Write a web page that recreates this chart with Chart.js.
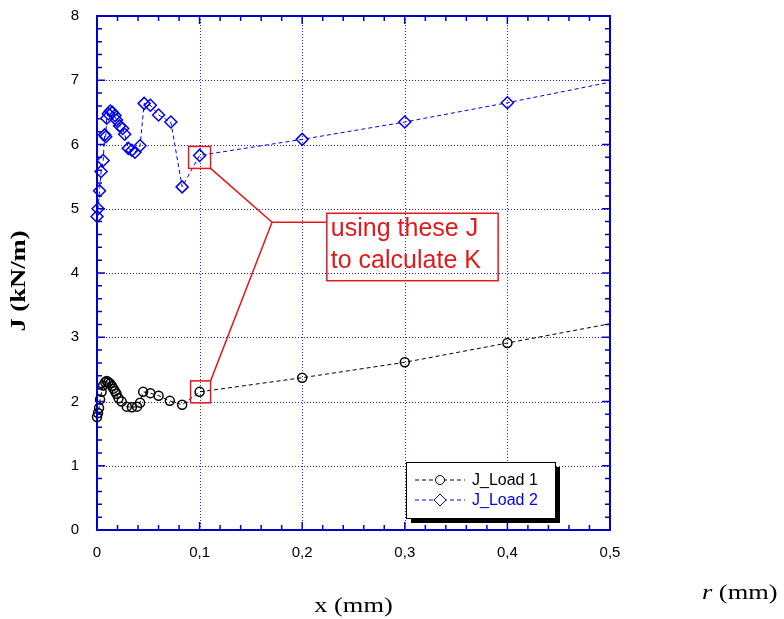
<!DOCTYPE html>
<html>
<head>
<meta charset="utf-8">
<script src="https://cdn.jsdelivr.net/npm/chart.js@4/dist/chart.umd.min.js"></script>
<style>
  html, body { margin: 0; padding: 0; background: #fff; }
  #wrap { width: 784px; height: 619px; position: relative; }
</style>
</head>
<body>
<div id="wrap"><canvas id="c" width="784" height="619"></canvas></div>
<script>
// J-integral along the crack front distance, two load cases
const load1X = [0, 0.001, 0.002, 0.003, 0.0045, 0.006, 0.008, 0.0095, 0.011, 0.0127, 0.0145, 0.016, 0.0175, 0.019, 0.021, 0.024, 0.029, 0.034, 0.039, 0.042, 0.045, 0.052, 0.060, 0.071, 0.083, 0.1, 0.2, 0.3, 0.4, 0.5];
const load1J = [1.76, 1.82, 1.9, 2.03, 2.15, 2.25, 2.3, 2.32, 2.3, 2.28, 2.24, 2.2, 2.16, 2.12, 2.05, 2.0, 1.92, 1.91, 1.92, 1.98, 2.15, 2.13, 2.09, 2.01, 1.95, 2.15, 2.37, 2.61, 2.91, 3.21];

const load2X = [0, 0.001, 0.0025, 0.004, 0.006, 0.0075, 0.0085, 0.0095, 0.011, 0.013, 0.015, 0.0175, 0.019, 0.022, 0.025, 0.027, 0.0305, 0.034, 0.037, 0.042, 0.046, 0.052, 0.060, 0.072, 0.083, 0.1, 0.2, 0.3, 0.4, 0.5];
const load2J = [4.88, 5.0, 5.28, 5.58, 5.75, 6.15, 6.12, 6.41, 6.48, 6.52, 6.5, 6.45, 6.38, 6.29, 6.25, 6.16, 5.94, 5.91, 5.88, 5.98, 6.64, 6.61, 6.46, 6.35, 5.34, 5.83, 6.08, 6.35, 6.65, 6.97];

const seriesNames = ['J_Load 1', 'J_Load 2'];
const xTicks = [0, 0.1, 0.2, 0.3, 0.4, 0.5];
const yTicks = [0, 1, 2, 3, 4, 5, 6, 7, 8];

// points highlighted for the K calculation (index into each series)
const pickedIndex = 25;
const noteLines = ['using these J', 'to calculate K'];

const BLUE = '#0000ee';
const FRAME = '#0000d0';
const RED = 'rgb(228,24,24)';

function pts(xs, ys) { return xs.map((x, i) => ({ x: x, y: ys[i] })); }
// last sample only continues the line to the frame edge
function radii(n, r) { return Array.from({ length: n }, (_, i) => i === n - 1 ? 0 : r); }

const fmt = v => v === 0 ? '0' : v.toFixed(1).replace('.', ',');

// text drawn with a horizontal stretch factor
function wideText(ctx, text, x, y, sx) {
  ctx.save();
  ctx.translate(x, y);
  ctx.scale(sx, 1);
  ctx.fillText(text, 0, 0);
  ctx.restore();
}

const decor = {
  id: 'decor',
  beforeDatasetsDraw(chart) {
    const { ctx, chartArea: a, scales: { x, y } } = chart;
    ctx.save();
    ctx.strokeStyle = '#2020ff';
    ctx.lineWidth = 1;
    ctx.setLineDash([1, 2]);
    xTicks.slice(1, -1).forEach(v => {
      const px = Math.round(x.getPixelForValue(v)) + 0.5;
      ctx.beginPath(); ctx.moveTo(px, a.top); ctx.lineTo(px, a.bottom); ctx.stroke();
    });
    yTicks.slice(1, -1).forEach(v => {
      const py = Math.round(y.getPixelForValue(v)) + 0.5;
      ctx.beginPath(); ctx.moveTo(a.left, py); ctx.lineTo(a.right, py); ctx.stroke();
    });
    ctx.restore();
  },
  afterDatasetsDraw(chart) {
    const { ctx, chartArea: a, scales: { x, y } } = chart;
    ctx.save();
    // frame
    ctx.strokeStyle = FRAME;
    ctx.lineWidth = 2;
    ctx.strokeRect(a.left, a.top, a.right - a.left, a.bottom - a.top);
    // inward ticks on all four sides
    ctx.lineWidth = 1.5;
    for (let i = 0; i <= 25; i++) {
      const v = i * 0.02;
      const px = x.getPixelForValue(v);
      const len = i % 5 === 0 ? 8 : 5;
      ctx.beginPath();
      ctx.moveTo(px, a.bottom); ctx.lineTo(px, a.bottom - len);
      ctx.moveTo(px, a.top); ctx.lineTo(px, a.top + len);
      ctx.stroke();
    }
    for (let i = 0; i <= 40; i++) {
      const v = i * 0.2;
      const py = y.getPixelForValue(v);
      const len = i % 5 === 0 ? 8 : 5;
      ctx.beginPath();
      ctx.moveTo(a.left, py); ctx.lineTo(a.left + len, py);
      ctx.moveTo(a.right, py); ctx.lineTo(a.right - len, py);
      ctx.stroke();
    }

    // annotation: boxes round the picked points, leader lines, note box
    const p1 = { x: load1X[pickedIndex], y: load1J[pickedIndex] };
    const p2 = { x: load2X[pickedIndex], y: load2J[pickedIndex] };
    const b2 = { l: x.getPixelForValue(p2.x) - 11, r: x.getPixelForValue(p2.x) + 11,
                 t: y.getPixelForValue(p2.y) - 9, b: y.getPixelForValue(p2.y) + 13 };
    const b1 = { l: x.getPixelForValue(p1.x) - 9, r: x.getPixelForValue(p1.x) + 11,
                 t: y.getPixelForValue(p1.y) - 11, b: y.getPixelForValue(p1.y) + 11 };
    const hub = { x: x.getPixelForValue(0.1706), y: y.getPixelForValue(4.79) };
    const note = { l: x.getPixelForValue(0.224), r: x.getPixelForValue(0.391),
                   t: y.getPixelForValue(4.93), b: y.getPixelForValue(3.88) };
    ctx.strokeStyle = RED;
    ctx.lineWidth = 1.5;
    ctx.setLineDash([]);
    ctx.strokeRect(b2.l, b2.t, b2.r - b2.l, b2.b - b2.t);
    ctx.strokeRect(b1.l, b1.t, b1.r - b1.l, b1.b - b1.t);
    ctx.strokeRect(note.l, note.t, note.r - note.l, note.b - note.t);
    ctx.beginPath();
    ctx.moveTo(b2.r, b2.b); ctx.lineTo(hub.x, hub.y);
    ctx.lineTo(b1.r, b1.t);
    ctx.moveTo(hub.x, hub.y); ctx.lineTo(note.l, hub.y);
    ctx.stroke();
    ctx.fillStyle = RED;
    ctx.font = '25px "Liberation Sans", Arial, sans-serif';
    ctx.textAlign = 'left';
    ctx.textBaseline = 'middle';
    ctx.fillText(noteLines[0], note.l + 4, note.t + 16);
    ctx.fillText(noteLines[1], note.l + 4, note.t + 48);

    // legend with drop shadow
    const L = { l: a.left + 309, t: a.bottom - 68, w: 149, h: 56 };
    ctx.fillStyle = '#000';
    ctx.fillRect(L.l + 5, L.t + 5, L.w, L.h);
    ctx.fillStyle = '#fff';
    ctx.fillRect(L.l, L.t, L.w, L.h);
    ctx.strokeStyle = '#000';
    ctx.lineWidth = 1;
    ctx.strokeRect(L.l + 0.5, L.t + 0.5, L.w, L.h);
    chart.data.datasets.forEach((ds, i) => {
      const yy = L.t + 18 + i * 20;
      ctx.strokeStyle = ds.borderColor;
      ctx.setLineDash(ds.borderDash);
      ctx.lineWidth = 1;
      ctx.beginPath(); ctx.moveTo(L.l + 9, yy); ctx.lineTo(L.l + 59, yy); ctx.stroke();
      ctx.setLineDash([]);
      ctx.fillStyle = '#fff';
      Chart.helpers.drawPoint(ctx, { pointStyle: ds.pointStyle, radius: ds.pointRadius[0], borderWidth: 1.5 }, L.l + 34, yy);
      ctx.fillStyle = ds.borderColor;
      ctx.font = '16px "Liberation Sans", Arial, sans-serif';
      ctx.textAlign = 'left';
      ctx.textBaseline = 'middle';
      ctx.fillText(ds.label, L.l + 66, yy + 1);
    });

    // axis titles
    ctx.fillStyle = '#000';
    ctx.textBaseline = 'middle';
    ctx.textAlign = 'center';
    ctx.font = '22px "Liberation Serif", "Times New Roman", serif';
    wideText(ctx, 'x (mm)', (a.left + a.right) / 2, 606, 1.2);
    ctx.save();
    ctx.translate(20, (a.top + a.bottom) / 2 + 8);
    ctx.rotate(-Math.PI / 2);
    ctx.font = 'bold 20px "Liberation Serif", "Times New Roman", serif';
    wideText(ctx, 'J (kN/m)', 0, 0, 1.33);
    ctx.restore();
    ctx.textAlign = 'left';
    ctx.font = 'italic 22px "Liberation Serif", "Times New Roman", serif';
    wideText(ctx, 'r', 702, 593, 1.2);
    const rw = ctx.measureText('r ').width * 1.2;
    ctx.font = '22px "Liberation Serif", "Times New Roman", serif';
    wideText(ctx, '(mm)', 702 + rw, 593, 1.2);
    ctx.restore();
  }
};

new Chart(document.getElementById('c'), {
  type: 'scatter',
  data: {
    datasets: [
      {
        label: seriesNames[0],
        data: pts(load1X, load1J),
        showLine: true,
        borderColor: '#000',
        backgroundColor: 'rgba(0,0,0,0)',
        borderWidth: 1,
        borderDash: [4, 3],
        pointStyle: 'circle',
        pointRadius: radii(load1X.length, 4.5),
        pointBorderWidth: 1.5,
        pointBorderColor: '#000',
        pointBackgroundColor: 'rgba(0,0,0,0)',
        clip: false
      },
      {
        label: seriesNames[1],
        data: pts(load2X, load2J),
        showLine: true,
        borderColor: BLUE,
        backgroundColor: 'rgba(0,0,0,0)',
        borderWidth: 1,
        borderDash: [4, 3],
        pointStyle: 'rectRot',
        pointRadius: radii(load2X.length, 6),
        pointBorderWidth: 1.5,
        pointBorderColor: BLUE,
        pointBackgroundColor: 'rgba(0,0,0,0)',
        clip: false
      }
    ]
  },
  options: {
    responsive: false,
    animation: false,
    layout: { padding: { left: 0, right: 174, top: 16, bottom: 0 } },
    plugins: { legend: { display: false }, tooltip: { enabled: false } },
    scales: {
      x: {
        type: 'linear', min: 0, max: 0.5,
        afterBuildTicks: s => { s.ticks = xTicks.map(v => ({ value: v })); },
        afterFit: s => { s.height = 89; s.paddingLeft = 0; s.paddingRight = 0; },
        grid: { display: false, drawTicks: false },
        border: { display: false },
        ticks: { color: '#000', padding: 14, maxRotation: 0,
                 font: { family: '"Liberation Sans", Arial, sans-serif', size: 15 },
                 callback: v => fmt(v) }
      },
      y: {
        type: 'linear', min: 0, max: 8,
        afterBuildTicks: s => { s.ticks = yTicks.map(v => ({ value: v })); },
        afterFit: s => { s.width = 97; s.paddingTop = 0; s.paddingBottom = 0; },
        grid: { display: false, drawTicks: false },
        border: { display: false },
        ticks: { color: '#000', padding: 18,
                 font: { family: '"Liberation Sans", Arial, sans-serif', size: 15 },
                 callback: v => String(v) }
      }
    }
  },
  plugins: [decor]
});
</script>
</body>
</html>
